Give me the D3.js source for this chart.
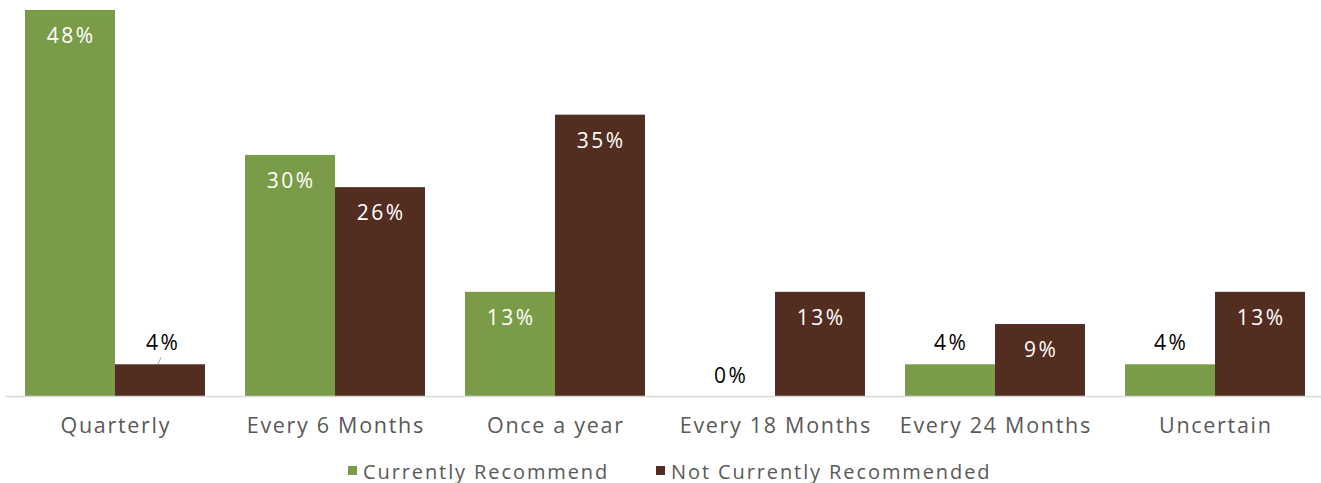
<!DOCTYPE html>
<html>
<head>
<meta charset="utf-8">
<script src="https://cdn.jsdelivr.net/npm/d3@7"></script>
<style>
  html, body { margin: 0; padding: 0; background: #fff; }
  svg { display: block; }
  text { font-family: "Open Sans", "Noto Sans", sans-serif; }
</style>
</head>
<body>
<svg id="chart" width="1321" height="483"></svg>
<script>
const categories = ["Quarterly", "Every 6 Months", "Once a year", "Every 18 Months", "Every 24 Months", "Uncertain"];
const seriesNames = ["Currently Recommend", "Not Currently Recommended"];
const currentlyRecommend = [48, 30, 13, 0, 4, 4];
const notCurrentlyRecommended = [4, 26, 35, 13, 9, 13];
const seriesColors = ["#7a9c48", "#532d20"];
const leaderLines = [["Quarterly", "Not Currently Recommended"]];

const seriesValues = [currentlyRecommend, notCurrentlyRecommended];
const data = categories.map((c, i) => ({
  category: c,
  values: seriesNames.map((s, j) => ({ category: c, series: s, value: seriesValues[j][i], color: seriesColors[j] }))
}));

const svg = d3.select("#chart");
const baseline = 396.5;

const x0 = d3.scaleBand().domain(categories).range([25, 1305]).paddingInner(40 / 220).paddingOuter(0);
const x1 = d3.scaleBand().domain(seriesNames).range([0, x0.bandwidth()]).padding(0);
const y = d3.scaleLinear().domain([0, 48]).range([baseline, 10]);

const groups = svg.append("g").selectAll("g").data(data).join("g")
  .attr("transform", d => `translate(${x0(d.category)},0)`);

groups.selectAll("rect").data(d => d.values).join("rect")
  .attr("x", d => x1(d.series))
  .attr("y", d => y(d.value))
  .attr("width", x1.bandwidth())
  .attr("height", d => baseline - y(d.value))
  .attr("fill", d => d.color);

// axis line
svg.append("line")
  .attr("x1", 6).attr("x2", 1321)
  .attr("y1", baseline).attr("y2", baseline)
  .attr("stroke", "#d9d9d9").attr("stroke-width", 1.5);

// category labels via axis
const xAxis = d3.axisBottom(x0).tickSize(0).tickPadding(0);
const ax = svg.append("g").attr("transform", `translate(0,${baseline})`).call(xAxis);
ax.select(".domain").remove();
ax.selectAll("text")
  .attr("y", 36)
  .attr("dy", null)
  .attr("dx", 0.8)
  .style("font-size", "21.5px")
  .style("letter-spacing", "1.7px")
  .attr("fill", "#595959");

// data labels
const insideThreshold = 9;
groups.selectAll("text.lbl").data(d => d.values).join("text")
  .attr("class", "lbl")
  .attr("x", d => x1(d.series) + x1.bandwidth() / 2 + 1.2 + (leaderLines.some(l => l[0] === d.category && l[1] === d.series) ? 2 : 0))
  .attr("y", d => d.value >= insideThreshold ? y(d.value) + 33 : y(d.value) - 14)
  .attr("text-anchor", "middle")
  .style("font-size", "21px")
  .style("letter-spacing", "2.5px")
  .attr("fill", d => d.value >= insideThreshold ? "#ffffff" : "#000000")
  .text(d => d.value + "%");

// leader lines
groups.selectAll("line.leader").data(d => d.values.filter(v => leaderLines.some(l => l[0] === v.category && l[1] === v.series))).join("line")
  .attr("class", "leader")
  .attr("x1", d => x1(d.series) + x1.bandwidth() / 2 + 1)
  .attr("y1", d => y(d.value) - 7)
  .attr("x2", d => x1(d.series) + x1.bandwidth() / 2 - 2)
  .attr("y2", d => y(d.value))
  .attr("stroke", "#a6a6a6").attr("stroke-width", 1);

// legend
const legendItems = [
  { name: seriesNames[0], color: seriesColors[0], x: 348 },
  { name: seriesNames[1], color: seriesColors[1], x: 656 }
];
const lg = svg.append("g").selectAll("g").data(legendItems).join("g")
  .attr("transform", d => `translate(${d.x},466)`);
lg.append("rect").attr("width", 9).attr("height", 9).attr("fill", d => d.color);
lg.append("text")
  .attr("x", 15).attr("y", 12.5)
  .style("font-size", "20px")
  .style("letter-spacing", "1.9px")
  .attr("fill", "#595959")
  .text(d => d.name);
</script>
</body>
</html>
